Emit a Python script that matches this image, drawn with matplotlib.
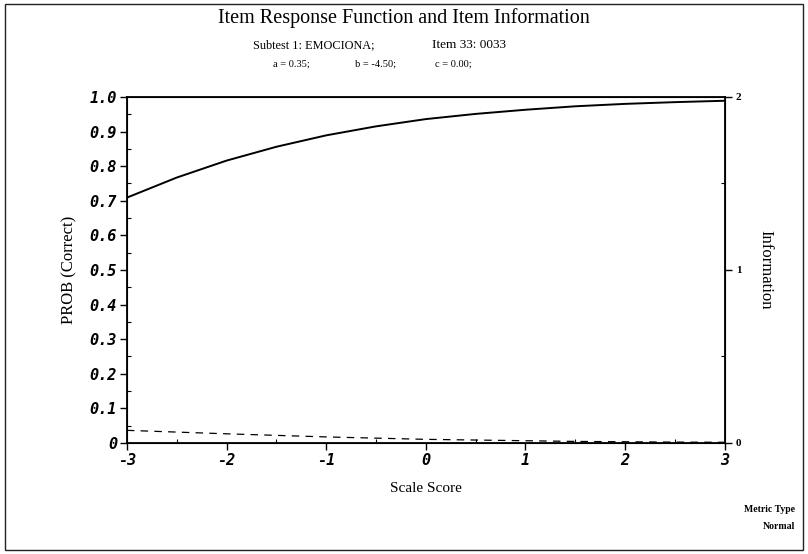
import matplotlib
matplotlib.use("Agg")
import matplotlib.pyplot as plt
from matplotlib.ticker import FixedLocator, FuncFormatter
from matplotlib.patches import Rectangle

# Item 33 parameters and curves on the scale-score grid
theta = [-3.0, -2.5, -2.0, -1.5, -1.0, -0.5, 0.0, 0.5, 1.0, 1.5, 2.0, 2.5, 3.0]
prob_correct = [0.709, 0.767, 0.816, 0.856, 0.889, 0.915, 0.936, 0.951, 0.963, 0.973, 0.980, 0.985, 0.989]
information = [0.073, 0.063, 0.053, 0.044, 0.035, 0.028, 0.021, 0.017, 0.013, 0.009, 0.007, 0.005, 0.004]

x_ticks = [-3, -2, -1, 0, 1, 2, 3]
y_ticks = [0, 0.1, 0.2, 0.3, 0.4, 0.5, 0.6, 0.7, 0.8, 0.9, 1.0]
info_ticks = [0, 1, 2]

serif = "Liberation Serif"

fig = plt.figure(figsize=(8.08, 5.54), dpi=100)
fig.patch.set_facecolor("white")

# outer frame
fig.add_artist(Rectangle((0.006, 0.008), 0.988, 0.985, transform=fig.transFigure,
                         fill=False, edgecolor="#222222", linewidth=1.0))

ax = fig.add_axes([0.157, 0.2004, 0.740, 0.6246])
ax.plot(theta, prob_correct, color="black", linewidth=1.4)
ax.set_xlim(-3, 3)
ax.set_ylim(0, 1.0)

ax.xaxis.set_major_locator(FixedLocator(x_ticks))
ax.xaxis.set_minor_locator(FixedLocator([-2.5, -1.5, -0.5, 0.5, 1.5, 2.5]))
ax.yaxis.set_major_locator(FixedLocator(y_ticks))
ax.yaxis.set_minor_locator(FixedLocator([v + 0.05 for v in y_ticks[:-1]]))

ax.xaxis.set_major_formatter(FuncFormatter(lambda v, p: f"{int(v)}".replace("-", "\u2010")))
ax.yaxis.set_major_formatter(FuncFormatter(lambda v, p: "0" if v == 0 else f"{v:.1f}"))

for lab in ax.get_xticklabels() + ax.get_yticklabels():
    lab.set_fontfamily("DejaVu Sans Mono")
    lab.set_fontweight("bold")
    lab.set_fontstyle("italic")
    lab.set_fontsize(11)

ax.tick_params(axis="both", which="major", direction="out", length=5, width=1.0)
ax.tick_params(axis="both", which="minor", direction="in", length=3, width=0.8)
ax.tick_params(axis="x", pad=2)
ax.tick_params(axis="y", pad=2)

for side in ["left", "bottom", "top", "right"]:
    ax.spines[side].set_linewidth(1.3)

ax.set_xlabel("Scale Score", fontfamily=serif, fontsize=11, labelpad=10)
ax.set_ylabel("PROB (Correct)", fontfamily=serif, fontsize=12, labelpad=9)

ax2 = ax.twinx()
ax2.plot(theta, information, color="black", linewidth=0.9, linestyle=(0, (6, 5)))
ax2.set_ylim(0, 2)
ax2.yaxis.set_major_locator(FixedLocator(info_ticks))
ax2.yaxis.set_minor_locator(FixedLocator([0.5, 1.5]))
ax2.tick_params(axis="y", which="major", direction="out", length=5, width=1.0, pad=3,
                labelsize=8)
ax2.tick_params(axis="y", which="minor", direction="in", length=3, width=0.8)
for lab in ax2.get_yticklabels():
    lab.set_fontfamily(serif)
    lab.set_fontweight("bold")
ax2.set_ylabel("Information", fontfamily=serif, fontsize=12, rotation=-90, labelpad=23)

fig.text(0.5, 0.967, "Item Response Function and Item Information", ha="center", va="center",
         fontfamily=serif, fontsize=14.5)
fig.text(0.389, 0.918, "Subtest 1: EMOCIONA;", ha="center", va="center", fontfamily=serif, fontsize=8.8)
fig.text(0.581, 0.918, "Item 33: 0033", ha="center", va="center", fontfamily=serif, fontsize=9.5)
fig.text(0.361, 0.885, "a = 0.35;", ha="center", va="center", fontfamily=serif, fontsize=7.5)
fig.text(0.465, 0.885, "b = -4.50;", ha="center", va="center", fontfamily=serif, fontsize=7.5)
fig.text(0.561, 0.885, "c = 0.00;", ha="center", va="center", fontfamily=serif, fontsize=7.5)

fig.text(0.984, 0.081, "Metric Type", ha="right", va="center", fontfamily=serif, fontsize=7, fontweight="bold")
fig.text(0.984, 0.049, "Normal", ha="right", va="center", fontfamily=serif, fontsize=7, fontweight="bold")

fig.savefig("out.png", dpi=100, facecolor="white")
